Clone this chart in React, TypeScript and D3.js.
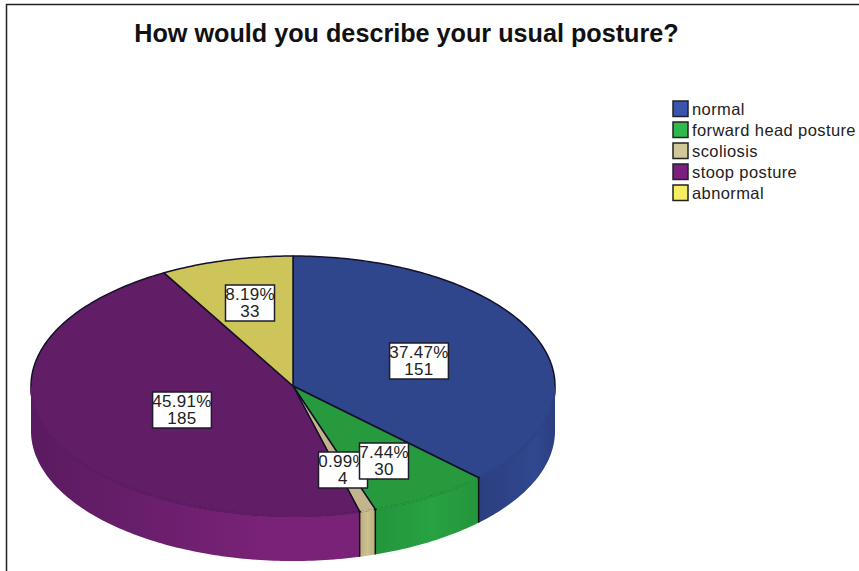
import React from "react";
import * as d3 from "d3";

// Survey answers, in the order they run clockwise from twelve o'clock.
const categories = ["normal", "forward head posture", "scoliosis", "stoop posture", "abnormal"];
const counts = [151, 30, 4, 185, 33];
const percents = ["37.47%", "7.44%", "0.99%", "45.91%", "8.19%"];

const topColors = ["#2f458c", "#279a3e", "#c2b58b", "#611d66", "#cdc55a"];
const sideLight = ["#31478f", "#28a243", "#cfc290", "#7a2278", "#cdc55a"];
const sideDark = ["#2b3f80", "#24953b", "#b8ab80", "#5a1b60", "#cdc55a"];
const legendColors = ["#3a55b0", "#2fb84c", "#d2c797", "#7b1f80", "#f6ee62"];

// Label box centres, as offsets from the pie centre.
const labelOffsets: [number, number][] = [
  [126, -24],
  [91, 76],
  [50, 85],
  [-111, 25],
  [-43, -82],
];
// Drawn so the forward head posture label sits over the scoliosis one.
const labelOrder = [0, 4, 3, 2, 1];

const WIDTH = 859;
const HEIGHT = 571;
const CX = 293;
const CY = 386;
const RX = 262;
const RY = 130;
const DEPTH = 45;

const slices = d3.pie<number>().sort(null)(counts);

// Pie angle (0 at the top, clockwise) mapped onto the tilted ellipse.
const ex = (a: number) => CX + RX * Math.sin(a);
const ey = (a: number) => CY - RY * Math.cos(a);

const sweep = (a0: number, a1: number) => {
  const n = Math.max(2, Math.ceil((a1 - a0) * 60));
  return d3.range(0, n + 1).map((i) => a0 + ((a1 - a0) * i) / n);
};

const rimLine = d3.line<number>().x(ex).y(ey);

function topPath(a0: number, a1: number) {
  const rim = rimLine(sweep(a0, a1)) ?? "";
  return `M${CX},${CY}L${rim.slice(1)}Z`;
}

function sidePath(a0: number, a1: number) {
  const area = d3
    .area<number>()
    .x(ex)
    .y0(ey)
    .y1((a) => ey(a) + DEPTH);
  return area(sweep(a0, a1)) ?? "";
}

export default function App() {
  const q1 = Math.PI / 2;
  const q3 = (3 * Math.PI) / 2;
  return (
    <svg
      width={WIDTH}
      height={HEIGHT}
      viewBox={`0 0 ${WIDTH} ${HEIGHT}`}
      style={{ position: "fixed", left: 0, top: 0, background: "#fff", fontFamily: "'Liberation Sans', Arial, sans-serif" }}
    >
      <defs>
        {slices.map((s, i) => {
          const a0 = Math.max(s.startAngle, q1);
          const a1 = Math.min(s.endAngle, q3);
          if (a1 <= a0) return null;
          const light = i === 3 ? ex(Math.PI + 0.1) : ex(a0 + (a1 - a0) * 0.5);
          return (
            <linearGradient key={i} id={`side-${i}`} gradientUnits="userSpaceOnUse" x1={ex(a1)} x2={ex(a0)} y1={0} y2={0}>
              <stop offset="0" stopColor={sideDark[i]} />
              <stop offset={(light - ex(a1)) / (ex(a0) - ex(a1))} stopColor={sideLight[i]} />
              <stop offset="1" stopColor={i === 3 ? sideLight[i] : sideDark[i]} />
            </linearGradient>
          );
        })}
      </defs>

      {/* Frame around the chart: only the top and left edges fall inside the image */}
      <path d={`M6.5,${HEIGHT}V4.5H${WIDTH}`} fill="none" stroke="#222" strokeWidth={1.5} />

      <text x={406.5} y={42} textAnchor="middle" fontSize={25.2} fontWeight="bold" fill="#111">
        How would you describe your usual posture?
      </text>

      {/* Rim of the disc */}
      {slices.map((s, i) => {
        const a0 = Math.max(s.startAngle, q1);
        const a1 = Math.min(s.endAngle, q3);
        if (a1 <= a0) return null;
        return <path key={i} d={sidePath(a0, a1)} fill={`url(#side-${i})`} />;
      })}
      {slices
        .filter((s) => s.endAngle > q1 && s.endAngle < q3)
        .map((s, i) => (
          <line
            key={i}
            x1={ex(s.endAngle)}
            x2={ex(s.endAngle)}
            y1={ey(s.endAngle)}
            y2={ey(s.endAngle) + DEPTH}
            stroke="#111"
            strokeWidth={1.5}
          />
        ))}

      {/* Top face */}
      {slices.map((s, i) => (
        <path key={i} d={topPath(s.startAngle, s.endAngle)} fill={topColors[i]} stroke="#14122a" strokeWidth={1.5} strokeLinejoin="round" />
      ))}
      {/* The front edge of the top face carries no outline: the rim meets it directly */}
      {slices.map((s, i) => {
        const a0 = Math.max(s.startAngle, q1) + 0.006;
        const a1 = Math.min(s.endAngle, q3) - 0.006;
        if (a1 <= a0) return null;
        return <path key={i} d={rimLine(sweep(a0, a1)) ?? ""} fill="none" stroke={topColors[i]} strokeWidth={2} />;
      })}

      {/* Value labels: the box follows the length of the percentage, which slightly overruns it */}
      {labelOrder.map((i) => {
        const [dx, dy] = labelOffsets[i];
        const x = CX + dx;
        const y = CY - 1 + dy;
        const w = percents[i].length * 9.8;
        return (
          <g key={i}>
            <rect x={x - w / 2} y={y - 18} width={w} height={36} fill="#fff" stroke="#1d1d2b" strokeWidth={1.5} />
            <text textAnchor="middle" fontSize={17} letterSpacing={0.3} fill="#222">
              <tspan x={x} y={y - 3}>{percents[i]}</tspan>
              <tspan x={x} y={y + 14}>{counts[i]}</tspan>
            </text>
          </g>
        );
      })}

      {/* Legend */}
      {categories.map((c, i) => {
        const y = 109 + i * 21;
        return (
          <g key={c}>
            <rect x={673} y={y - 8} width={15} height={15.5} fill={legendColors[i]} stroke="#222" strokeWidth={1.5} />
            <text x={692} y={y + 6} fontSize={16.5} letterSpacing={0.4} fill="#222">
              {c}
            </text>
          </g>
        );
      })}
    </svg>
  );
}
